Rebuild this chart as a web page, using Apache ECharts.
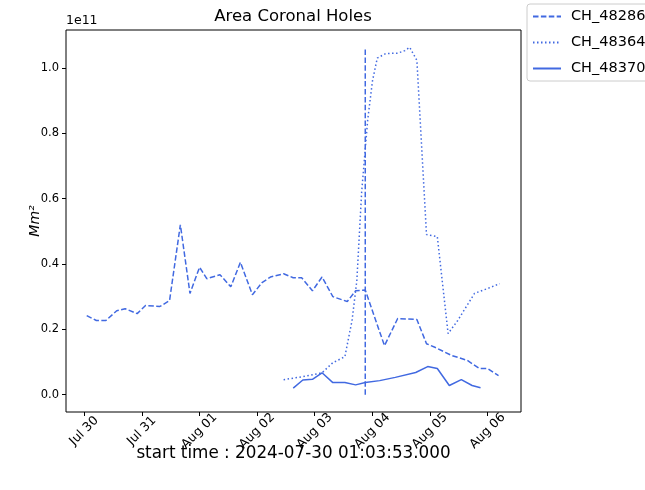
<!DOCTYPE html>
<html lang="en">
<head>
<meta charset="UTF-8">
<title>Area Coronal Holes</title>
<script src="https://cdn.jsdelivr.net/npm/echarts@6/dist/echarts.min.js"></script>
<style>
    html, body { margin: 0; padding: 0; background: #fff; }
    #main { width: 645px; height: 490px; }
</style>
</head>
<body>
<div id="main"></div>
<script>
    // times are hours after the start time, areas in units of 1e11 Mm^2
    var startLabel = 'start time : 2024-07-30 01:03:53.000';
    var startHour = 1 + 3 / 60 + 53 / 3600;   // hour of day on Jul 30

    var hours48286 = [0, 4, 8, 12.5, 16, 21, 24.5, 30.5, 34.5, 39, 43, 47, 50, 55.5, 60, 64, 69, 73, 76.5, 82,
        86, 89.5, 94, 98, 102.5, 108.5, 112, 116, 124, 129.5, 137.5, 141.5, 145, 152, 158.5, 163.5, 167, 171.5];
    var area48286 = [0.242, 0.227, 0.227, 0.257, 0.263, 0.248, 0.273, 0.270, 0.288, 0.520, 0.310, 0.390, 0.355, 0.367, 0.330, 0.405, 0.306, 0.343, 0.360, 0.370,
        0.358, 0.358, 0.318, 0.360, 0.300, 0.285, 0.318, 0.320, 0.150, 0.233, 0.230, 0.156, 0.145, 0.120, 0.105, 0.080, 0.080, 0.058];

    var hours48364 = [82, 90, 98, 102.5, 107.5, 110.5, 112.5, 114.5, 117, 119, 121, 124.5, 129.5, 132.5, 134.5, 137.5, 141.5, 146,
        150.5, 154.5, 161.5, 167, 172];
    var area48364 = [0.046, 0.055, 0.067, 0.098, 0.116, 0.227, 0.350, 0.620, 0.840, 0.960, 1.030, 1.044, 1.045, 1.053, 1.063, 1.023, 0.490, 0.484,
        0.187, 0.227, 0.310, 0.325, 0.340];

    var hours48370 = [86, 90, 94, 98, 102.5, 107.5, 112, 116, 122, 128.5, 137, 142, 146, 151, 156, 160.5, 164];
    var area48370 = [0.020, 0.045, 0.047, 0.067, 0.037, 0.037, 0.030, 0.037, 0.043, 0.053, 0.068, 0.086, 0.080, 0.028, 0.046, 0.028, 0.021];

    var markHour = 116;      // vertical marker
    var markTop = 1.063;

    var seriesNames = ['CH_48286', 'CH_48364', 'CH_48370'];
    var dayLabels = ['Jul 30', 'Jul 31', 'Aug 01', 'Aug 02', 'Aug 03', 'Aug 04', 'Aug 05', 'Aug 06'];
    var dayTicks = [0, 1, 2, 3, 4, 5, 6, 7];
    var yTicks = [0, 0.2, 0.4, 0.6, 0.8, 1.0];

    var color = '#4169e1';
    var font = 'DejaVu Sans';

    function toDay(h) {
        return (startHour + h) / 24;
    }

    function pairs(hours, vals) {
        return hours.map(function (h, i) { return [toDay(h), vals[i]]; });
    }

    function line(name, hours, vals, dash) {
        return {
            name: name,
            type: 'line',
            data: pairs(hours, vals),
            symbol: 'none',
            silent: true,
            lineStyle: {color: color, width: 1.5, type: dash, cap: 'butt'},
            itemStyle: {color: color}
        };
    }

    var myChart = echarts.init(document.getElementById('main'));

    myChart.setOption({
        animation: false,
        textStyle: {fontFamily: font},
        grid: {left: 66, right: 124, top: 30, bottom: 78, show: true, borderColor: '#000', borderWidth: 1},
        legend: {
            data: seriesNames,
            orient: 'vertical',
            left: 527, top: 4,
            itemWidth: 28, itemHeight: 14, itemGap: 11,
            padding: [5, 6, 5, 5],
            backgroundColor: '#fff',
            borderColor: '#cccccc', borderWidth: 1, borderRadius: 3,
            itemStyle: {opacity: 0},
            textStyle: {fontFamily: font, fontSize: 14.5, color: '#000', padding: [0, 0, 0, 5]}
        },
        xAxis: {
            type: 'value',
            min: -0.315, max: 7.58,
            name: startLabel,
            nameLocation: 'middle',
            nameGap: 33,
            nameMoveOverlap: false,
            nameTextStyle: {fontFamily: font, fontSize: 16.8, color: '#000'},
            axisLine: {show: false, onZero: false},
            axisTick: {show: true, length: 4, customValues: dayTicks, lineStyle: {color: '#000'}},
            axisLabel: {
                customValues: dayTicks,
                rotate: 45, margin: 19,
                align: 'center', verticalAlign: 'middle',
                fontFamily: font, fontSize: 12.5, color: '#000',
                formatter: function (v) { return dayLabels[Math.round(v)]; }
            },
            splitLine: {show: false}
        },
        yAxis: {
            type: 'value',
            min: -0.053, max: 1.116,
            name: 'Mm²',
            nameLocation: 'middle',
            nameRotate: 90,
            nameGap: 24,
            nameMoveOverlap: false,
            nameTextStyle: {fontFamily: font, fontSize: 14, fontStyle: 'italic', color: '#000'},
            axisLine: {show: false, onZero: false},
            axisTick: {show: true, length: 4, customValues: yTicks, lineStyle: {color: '#000'}},
            axisLabel: {
                customValues: yTicks,
                margin: 7,
                fontFamily: font, fontSize: 11.5, color: '#000',
                formatter: function (v) { return v.toFixed(1); }
            },
            splitLine: {show: false}
        },
        graphic: [
            {type: 'text', x: 293, y: 17, style: {text: 'Area Coronal Holes', align: 'center', verticalAlign: 'middle', fontFamily: font, fontSize: 16.5, fill: '#000'}},
            {type: 'text', x: 66, y: 21, style: {text: '1e11', align: 'left', verticalAlign: 'middle', fontFamily: font, fontSize: 12.5, fill: '#000'}}
        ],
        series: [
            line(seriesNames[0], hours48286, area48286, [5.5, 2.4]),
            line(seriesNames[1], hours48364, area48364, [1.5, 2.5]),
            line(seriesNames[2], hours48370, area48370, 'solid'),
            {
                name: 'marker',
                type: 'line',
                data: [[toDay(markHour), 0], [toDay(markHour), markTop]],
                symbol: 'none',
                silent: true,
                lineStyle: {color: color, width: 1.5, type: [5.5, 2.4], cap: 'butt'}
            }
        ]
    });
</script>
</body>
</html>
